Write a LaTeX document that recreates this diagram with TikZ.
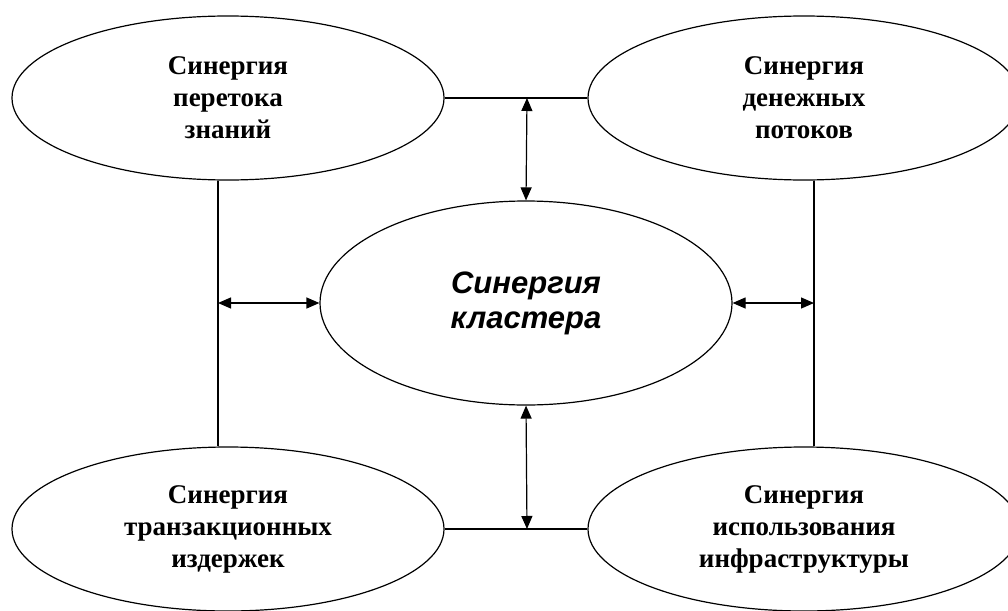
\documentclass[tikz,border=0pt]{standalone}
\usepackage{fontspec}
\setmainfont{Liberation Serif}
\newfontfamily\arialfont{Liberation Sans}
\usepackage{tikz}
\usetikzlibrary{shapes.geometric,arrows.meta}

\begin{document}
\begin{tikzpicture}[x=1pt,y=-1pt,synergy/.style={shape=ellipse,draw=black,line width=1.2pt,inner sep=0pt,align=center,minimum width=432pt,minimum height=164pt,font=\bfseries\fontsize{27}{32}\selectfont},link/.style={line width=1.2pt,{Triangle[length=13pt,width=11pt]}-{Triangle[length=13pt,width=11pt]}}]
\useasboundingbox (0,0) rectangle (1008,610);
\node[synergy] (TL) at (228,98) {Синергия\\перетока\\знаний};
\node[synergy] (TR) at (804,98) {Синергия\\денежных\\потоков};
\node[synergy] (BL) at (228,529) {Синергия\\транзакционных\\издержек};
\node[synergy] (BR) at (804,529) {Синергия\\использования\\инфраструктуры};
\node[synergy,minimum width=412pt,minimum height=204pt,font=\arialfont\bfseries\itshape\fontsize{31}{35}\selectfont] (C) at (526,303) {Синергия\\кластера};
\coordinate (T) at (527,98);
\coordinate (B) at (527,529);
\coordinate (L) at (218,303);
\coordinate (R) at (814,303);
\draw[line width=1.2pt] (TL.east) -- (TR.west);
\draw[line width=1.2pt] (BL.east) -- (BR.west);
\draw[line width=1.2pt] (TL.south -| L) -- (BL.north -| L);
\draw[line width=1.2pt] (TR.south -| R) -- (BR.north -| R);
\draw[link] (T) -- (C.north);
\draw[link] (C.south) -- (B);
\draw[link] (L) -- (C.west);
\draw[link] (C.east) -- (R);
\end{tikzpicture}
\end{document}
